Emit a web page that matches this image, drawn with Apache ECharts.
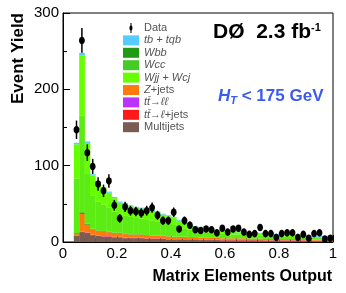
<!DOCTYPE html>
<html><head><meta charset="utf-8">
<script src="https://cdn.jsdelivr.net/npm/echarts@6/dist/echarts.min.js"></script>
<style>html,body{margin:0;padding:0;background:#fff}#c{width:346px;height:293px}</style>
</head><body><div id="c"></div>
<script>
// Bin lower edges (width 0.02) from 0.04 to 0.98
var binLow = [0.04,0.06,0.08,0.10,0.12,0.14,0.16,0.18,0.20,0.22,0.24,0.26,0.28,0.30,0.32,0.34,0.36,0.38,0.40,0.42,0.44,0.46,0.48,0.50,0.52,0.54,0.56,0.58,0.60,0.62,0.64,0.66,0.68,0.70,0.72,0.74,0.76,0.78,0.80,0.82,0.84,0.86,0.88,0.90,0.92,0.94,0.96,0.98];
var binWidth = 0.02;
// Stacked backgrounds, bottom to top
var multijets = [8,13,12,9,8,7,7,6,6,5,5,5,5,4,4,4,4,3,3,3,3,3,3,2.5,2.5,2.5,2.5,2,2,2,2,2,2,2,2,1.5,1.5,1.5,1.5,1.5,1.5,1.5,1.5,1,1,1,1,1];
var ttLepJets = [0.6,0.6,0.5,0.4,0.4,0.6,0.6,0.6,0.6,0.6,0.6,0.6,0.6,0.6,0.6,0.6,0.6,0.6,0.6,0.6,0.6,0.6,0.6,0.6,0.6,0.6,0.6,0.6,0.6,0.6,0.6,0.6,0.6,0.6,0.6,0.6,0.6,0.6,0.6,0.6,0.6,0.6,0.6,0.6,0.6,0.6,0.6,0.6];
var ttDilep = [0.2,0.2,0.2,0.2,0.2,0.2,0.2,0.2,0.2,0.2,0.2,0.2,0.2,0.2,0.2,0.2,0.2,0.2,0.2,0.2,0.2,0.2,0.2,0.2,0.2,0.2,0.2,0.2,0.2,0.2,0.2,0.2,0.2,0.2,0.2,0.2,0.2,0.2,0.2,0.2,0.2,0.2,0.2,0.2,0.2,0.2,0.2,0.2];
var zjets = [1.5,23,10,7,6,6,5,5,5,4.5,4,4,4,4,3.5,3.5,3.5,3.5,3,3,3,2.5,2.5,2.5,2.5,2,2,2,2,2,2,2,1.5,1.5,1.5,1.5,1.5,1.5,1.5,1.5,1.5,1.5,1.5,1.5,1.5,1.5,1.2,1.2];
var wbb = [1.2,2.1,1.1,0.7,0.6,0.6,0.5,0.5,0.4,0.4,0.4,0.4,0.4,0.4,0.3,0.3,0.3,0.3,0.3,0.2,0.2,0.2,0.1,0.1,0.1,0.1,0.1,0.1,0.1,0.1,0.1,0.1,0.1,0.1,0.1,0.1,0.1,0.1,0.1,0.1,0.1,0.1,0.1,0.1,0,0,0,0];
var wcc = [71.8,126.8,65.3,43.1,37.7,34.6,31.6,27.8,24.2,23.9,22.6,21.3,20.7,20.7,19.9,18.6,16.8,16.2,15.2,12.8,10.9,9.4,8.2,7.4,6.7,6.4,5.8,5.8,5.5,5.1,4.8,4.6,4.6,4.3,4,4,3.6,3.3,3,2.7,2.7,2.4,2.4,2.4,2.1,2.1,2,1.7];
var wjj = [44.7,79.1,40.7,26.9,23.4,21.5,19.6,17.4,15.1,14.9,14,13.3,12.9,12.9,12.3,11.6,10.4,10,9.5,8,6.9,5.9,5.2,4.5,4.2,4,3.6,3.6,3.4,3.3,3.1,2.8,2.8,2.6,2.4,2.4,2.3,2.1,1.9,1.7,1.7,1.5,1.5,1.5,1.4,1.4,1.3,1.1];
var tbtqb = [2,3,2,1.5,1.5,1.5,1.5,1.5,1.5,1.5,1.2,1.2,1.2,1.2,1.2,1.2,1.2,1.2,1.2,1.2,1.2,1.2,1.2,1.2,1.2,1.2,1.2,1.2,1.2,1.2,1.2,1.2,1.2,1.2,1.2,1.2,1.2,1.2,1.2,1.2,1.2,1.2,1.2,1.2,1.2,1.2,1.2,1.2];
// Data (counts) and statistical errors
var dataCounts = [147,264,117,99,76,67,80,48,31,46,41,40,38,41,45,35,28,28,39,17,28,22,16,15,17,16,12,18,13,17,18,13,10,11,19,11,11,6,11,12,12,6,10,5,11,12,4,5];
var dataErr = [12.1,16.2,10.8,9.9,8.7,8.2,8.9,6.9,5.6,6.8,6.4,6.3,6.2,6.4,6.7,5.9,5.3,5.3,6.2,4.1,5.3,4.7,4,3.9,4.1,4,3.5,4.2,3.6,4.1,4.2,3.6,3.2,3.3,4.4,3.3,3.3,2.4,3.3,3.5,3.5,2.4,3.2,2.2,3.3,3.5,2,2.2];
var yTicks = [0,100,200,300];
var xTicks = [0,0.2,0.4,0.6,0.8,1];

var layers = [
  {name:'Multijets', vals:multijets, color:'#7b5c52'},
  {name:'ttlj', vals:ttLepJets, color:'#ff1a1a'},
  {name:'ttll', vals:ttDilep, color:'#bb33ff'},
  {name:'Zjets', vals:zjets, color:'#ff7a0a'},
  {name:'Wbb', vals:wbb, color:'#1f9a12'},
  {name:'Wcc', vals:wcc, color:'#5cec14'},
  {name:'Wjj', vals:wjj, color:'#66ff00'},
  {name:'tb', vals:tbtqb, color:'#55ccff'}
];
var legendColors = {Wcc:'#44cc22'};

var base = binLow.map(function(){return 0;});
var series = [];
layers.forEach(function(L){
  var d = binLow.map(function(x,i){
    var b = base[i], t = b + L.vals[i];
    base[i] = t;
    return [x, x+binWidth, b, t];
  });
  series.push({
    type:'custom', name:L.name, data:d, clip:true,
    itemStyle:{color:L.color},
    encode:{x:[0,1], y:[2,3]},
    renderItem:function(params, api){
      var p0 = api.coord([api.value(0), api.value(2)]);
      var p1 = api.coord([api.value(1), api.value(3)]);
      return {type:'rect', shape:{x:p0[0], y:p1[1], width:p1[0]-p0[0]+0.3, height:p0[1]-p1[1]},
        style:{fill:L.color, stroke:null}};
    }
  });
});
series.push({
  type:'custom', name:'Data', clip:true, z:10,
  itemStyle:{color:'#000'},
  data: binLow.map(function(x,i){return [x+binWidth/2, dataCounts[i], dataErr[i]];}),
  encode:{x:0, y:1},
  renderItem:function(params, api){
    var x = api.value(0), y = api.value(1), e = api.value(2);
    var c = api.coord([x,y]), lo = api.coord([x,y-e]), hi = api.coord([x,y+e]);
    var pts = [];
    for (var k=0;k<16;k++){var a=k/16*Math.PI*2; pts.push([c[0]+2.9*Math.cos(a), c[1]+3.8*Math.sin(a)]);}
    return {type:'group', children:[
      {type:'line', shape:{x1:c[0],y1:lo[1],x2:c[0],y2:hi[1]}, style:{stroke:'#000', lineWidth:1.5}},
      {type:'polygon', shape:{points:pts}, style:{fill:'#000'}}
    ]};
  }
});

var labelMap = {
  'Data':'{n|Data}',
  'tb':'{i|tb + tqb}',
  'Wbb':'{i|Wbb}',
  'Wcc':'{i|Wcc}',
  'Wjj':'{i|Wjj + Wcj}',
  'Zjets':'{i|Z}{n|+jets}',
  'ttll':'{i|tt\u0304\u2192\u2113\u2113}',
  'ttlj':'{i|tt\u0304\u2192\u2113}{n|+jets}',
  'Multijets':'{n|Multijets}'
};
var legendOrder = ['Data','tb','Wbb','Wcc','Wjj','Zjets','ttll','ttlj','Multijets'];
var FONT = 'Liberation Sans, Arial, Helvetica, sans-serif';

var chart = echarts.init(document.getElementById('c'), null, {renderer:'canvas'});
chart.setOption({
  animation:false,
  backgroundColor:'#fff',
  grid:{left:63, right:13, top:13, bottom:51, show:true, borderColor:'#000', borderWidth:1, backgroundColor:'transparent'},
  xAxis:{type:'value', min:xTicks[0], max:xTicks[xTicks.length-1], interval:0.2,
    axisLine:{lineStyle:{color:'#000', width:1}},
    axisTick:{inside:true, length:7, lineStyle:{color:'#000'}},
    minorTick:{show:true, splitNumber:5, length:4, lineStyle:{color:'#000'}},
    splitLine:{show:false},
    axisLabel:{color:'#000', fontSize:15, fontFamily:FONT, margin:4,
      formatter:function(v){return (v===0||v===1)?String(v):v.toFixed(1);}}
  },
  yAxis:{type:'value', min:yTicks[0], max:yTicks[yTicks.length-1], interval:100,
    axisLine:{show:true, lineStyle:{color:'#000', width:1}},
    axisTick:{inside:true, length:7, lineStyle:{color:'#000'}},
    minorTick:{show:true, splitNumber:2, length:4, lineStyle:{color:'#000'}},
    splitLine:{show:false},
    axisLabel:{color:'#000', fontSize:15, fontFamily:FONT, margin:4}
  },
  legend:{
    orient:'vertical', left:118, top:17, itemWidth:16, itemHeight:10, itemGap:0.4,
    data: legendOrder.map(function(n){
      var o = {name:n};
      if (n==='Data') { o.icon = 'path://M4.4,0 L5.6,0 L5.6,3 C7.2,3.6 7.2,8.4 5.6,9 L5.6,12 L4.4,12 L4.4,9 C2.8,8.4 2.8,3.6 4.4,3 Z'; }
      else o.icon = 'rect';
      if (legendColors[n]) o.itemStyle = {color:legendColors[n]};
      return o;
    }),
    formatter:function(n){return labelMap[n];},
    textStyle:{color:'#555', fontSize:11, fontFamily:FONT, lineHeight:12,
      rich:{ i:{fontStyle:'italic', color:'#555', fontSize:11, fontFamily:FONT},
             n:{color:'#555', fontSize:11, fontFamily:FONT} }},
    selectedMode:false
  },
  graphic:[
    {type:'text', left:213, top:22, style:{
      text:'{b|D\u00d8  2.3 fb}{s|-1}',
      rich:{ b:{fontSize:21, fontWeight:'bold', fontFamily:FONT, fill:'#000', color:'#000'},
             s:{fontSize:11, fontWeight:'bold', fontFamily:FONT, fill:'#000', color:'#000', verticalAlign:'top', padding:[0,0,10,0]} }}},
    {type:'text', left:218, top:88, style:{
      text:'{h|H}{t|T}{r| < 175 GeV}',
      rich:{ h:{fontSize:17, fontStyle:'italic', fontWeight:'bold', fontFamily:FONT, fill:'#3a5af0', color:'#3a5af0'},
             t:{fontSize:11, fontStyle:'italic', fontWeight:'bold', fontFamily:FONT, fill:'#3a5af0', color:'#3a5af0', padding:[8,0,0,0]},
             r:{fontSize:17, fontWeight:'bold', fontFamily:FONT, fill:'#3a5af0', color:'#3a5af0'} }}},
    {type:'text', x:18, y:13, rotation:Math.PI/2, style:{text:'Event Yield', fontSize:17, fontWeight:'bold', fontFamily:FONT, fill:'#000', align:'right', verticalAlign:'middle'}},
    {type:'text', x:332, y:277, style:{text:'Matrix Elements Output', fontSize:16, fontWeight:'bold', fontFamily:FONT, fill:'#000', align:'right', verticalAlign:'middle'}}
  ],
  series:series
});
</script></body></html>
